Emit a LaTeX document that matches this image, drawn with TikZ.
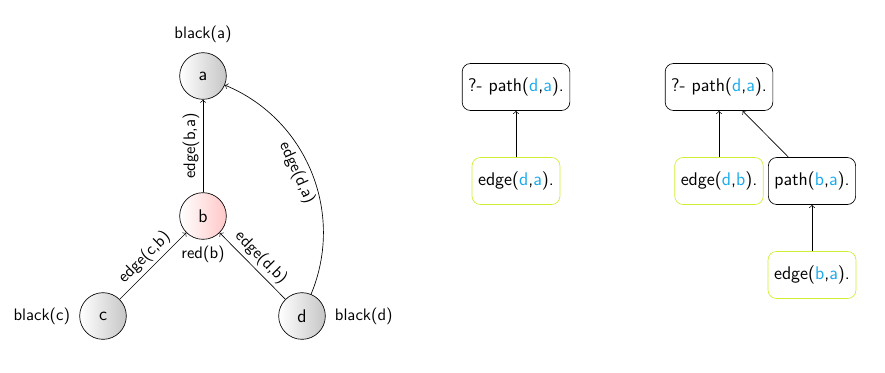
\documentclass[tikz,border=0pt]{standalone}
\usepackage{fontspec}
\definecolor{qblue}{RGB}{25,170,235}
\definecolor{qgreen}{RGB}{205,240,50}
\newcommand{\qv}[1]{\textcolor{qblue}{#1}}
\begin{document}
\begin{tikzpicture}[x=0.6pt,y=-0.6pt, font=\sffamily,
  big/.style={font=\sffamily\fontsize{11}{13}\selectfont},
  vert/.style={big,circle,draw,minimum size=28pt,inner sep=0pt,left color=white,right color=gray!45},
  redvert/.style={vert,right color=red!22},
  goal/.style={big,draw,rounded corners=5pt,minimum height=28.2pt,inner xsep=3.6pt},
  fact/.style={goal,draw=qgreen},
  elabel/.style={sloped,above,inner sep=2pt}]
\useasboundingbox (0,0) rectangle (885,372);
% graph
\node[vert,label={[label distance=2pt,font=\sffamily]above:black(a)}] (a) at (203,76) {a};
\node[redvert,label={[label distance=0pt,font=\sffamily]below:red(b)}] (b) at (203,216) {b};
\node[vert,label={[label distance=2pt,font=\sffamily]left:black(c)}] (c) at (103,316) {c};
\node[vert,label={[label distance=2pt,font=\sffamily]right:black(d)}] (d) at (302,316) {d};
\draw[->] (b) -- node[elabel]{edge(b,a)} (a);
\draw[->] (c) -- node[elabel]{edge(c,b)} (b);
\draw[->] (d) -- node[elabel]{edge(d,b)} (b);
\draw[->] (d) to[bend right=45] node[sloped,below,inner sep=3pt,pos=0.52]{edge(d,a)} (a);
% first tree
\node[goal] (g1) at (516,87) {?- path(\qv{d},\qv{a}).};
\node[fact] (f1) at (516,181) {edge(\qv{d},\qv{a}).};
\draw[->] (f1) -- (g1);
% second tree
\node[goal] (g2) at (719,87) {?- path(\qv{d},\qv{a}).};
\node[fact] (f2) at (719,181) {edge(\qv{d},\qv{b}).};
\node[goal] (p2) at (812,181) {path(\qv{b},\qv{a}).};
\node[fact] (f3) at (812,275) {edge(\qv{b},\qv{a}).};
\draw[->] (f2) -- (g2);
\draw[->] (p2) -- (g2);
\draw[->] (f3) -- (p2);
\end{tikzpicture}
\end{document}
